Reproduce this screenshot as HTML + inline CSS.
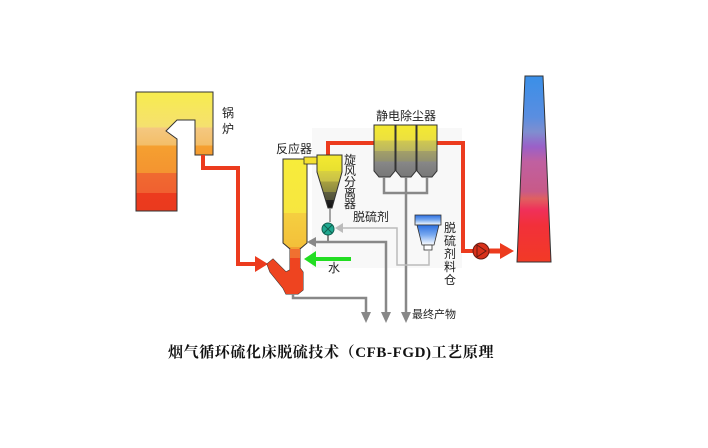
<!DOCTYPE html>
<html><head><meta charset="utf-8"><style>
html,body{margin:0;padding:0;background:#fff;}
svg{display:block;}
text{font-family:"Liberation Sans","Noto Sans CJK SC",sans-serif;font-size:12px;fill:#222;}
</style></head><body>
<svg width="708" height="448" viewBox="0 0 708 448" xmlns="http://www.w3.org/2000/svg">
<defs>
<linearGradient id="boil" x1="0" y1="0" x2="0" y2="1">
<stop offset="0" stop-color="#f7ec4e"/><stop offset="0.3" stop-color="#f5e070"/>
<stop offset="0.3" stop-color="#f5c880"/><stop offset="0.45" stop-color="#f3be68"/>
<stop offset="0.45" stop-color="#f5a030"/><stop offset="0.68" stop-color="#f49430"/>
<stop offset="0.68" stop-color="#f06a30"/><stop offset="0.85" stop-color="#f06030"/>
<stop offset="0.85" stop-color="#ec3b1e"/><stop offset="1" stop-color="#ea3a1e"/>
</linearGradient>
<linearGradient id="reac" x1="0" y1="0" x2="0" y2="1">
<stop offset="0" stop-color="#f7ec3a"/><stop offset="0.4" stop-color="#f7e640"/>
<stop offset="0.4" stop-color="#f5cf40"/><stop offset="0.65" stop-color="#f3c03a"/>
<stop offset="0.65" stop-color="#f3a030"/><stop offset="1" stop-color="#f29a2e"/>
</linearGradient>
<linearGradient id="cyc" x1="0" y1="0" x2="0" y2="1">
<stop offset="0" stop-color="#f4ea30"/><stop offset="0.3" stop-color="#e8e030"/>
<stop offset="0.3" stop-color="#d8d040"/><stop offset="0.5" stop-color="#c8c048"/>
<stop offset="0.5" stop-color="#a8a040"/><stop offset="0.7" stop-color="#8a8840"/>
<stop offset="0.7" stop-color="#606040"/><stop offset="0.85" stop-color="#505038"/>
<stop offset="0.85" stop-color="#222"/><stop offset="1" stop-color="#111"/>
</linearGradient>
<linearGradient id="esp" x1="0" y1="0" x2="0" y2="1">
<stop offset="0" stop-color="#f4ea30"/><stop offset="0.3" stop-color="#ece040"/>
<stop offset="0.3" stop-color="#d0c850"/><stop offset="0.5" stop-color="#bcb860"/>
<stop offset="0.5" stop-color="#a4a068"/><stop offset="0.7" stop-color="#909070"/>
<stop offset="0.7" stop-color="#888"/><stop offset="1" stop-color="#777"/>
</linearGradient>
<linearGradient id="stack" x1="0" y1="0" x2="0" y2="1">
<stop offset="0" stop-color="#3a8fe8"/><stop offset="0.22" stop-color="#5a8ee0"/>
<stop offset="0.3" stop-color="#7f8ed0"/><stop offset="0.38" stop-color="#9a60c8"/>
<stop offset="0.46" stop-color="#c060a0"/><stop offset="0.62" stop-color="#c85a88"/>
<stop offset="0.66" stop-color="#e06060"/><stop offset="0.72" stop-color="#f0305a"/>
<stop offset="0.8" stop-color="#f2303a"/><stop offset="1" stop-color="#f23a26"/>
</linearGradient>
<linearGradient id="silo" x1="0" y1="0" x2="0" y2="1">
<stop offset="0" stop-color="#2a6ee0"/><stop offset="0.5" stop-color="#7aaaf0"/><stop offset="1" stop-color="#ffffff"/>
</linearGradient>
</defs>

<!-- light background area -->
<rect x="312" y="128" width="150" height="140" fill="#f8f8f8"/>

<!-- boiler -->
<polygon points="136,92 213,92 213,155 195,155 195,120 177,120 166,131 177,139 177,211 136,211" fill="url(#boil)" stroke="#333" stroke-width="1"/>
<text x="222" y="117">锅</text><text x="222" y="133">炉</text>

<!-- red pipes -->
<polyline points="203,155 203,168 238,168 238,264 258,264" fill="none" stroke="#ec3b1e" stroke-width="4"/>
<polygon points="255,256 268,264 255,272" fill="#ec3b1e"/>
<polyline points="328,156 328,143 374,143" fill="none" stroke="#ec3b1e" stroke-width="4"/>
<polyline points="437,143 463,143 463,251 473,251" fill="none" stroke="#ec3b1e" stroke-width="4"/>
<line x1="489" y1="251" x2="503" y2="251" stroke="#ec3b1e" stroke-width="5"/>
<polygon points="500,243 514,251 500,259" fill="#ec3b1e"/>
<circle cx="481" cy="251" r="8" fill="#d8301a" stroke="#6a1a10" stroke-width="1"/>
<polygon points="477,245 486,251 477,257" fill="none" stroke="#6a1a10" stroke-width="1"/>

<!-- reactor -->
<path d="M283,159 L307,159 L307,243 L300,249 L300,268 L303,272 L303,290 L298,294 L286,294 L283,288 L270,272 L267,264 L273,259 L286,272 L290,270 L290,249 L283,243 Z" fill="url(#reac)" stroke="#333" stroke-width="1"/>
<path d="M290,258 L300,258 L300,268 L303,272 L303,290 L298,294 L286,294 L283,288 L270,272 L267,264 L273,259 L286,272 L290,270 Z" fill="#ee4420"/>
<path d="M290,249 L300,249 L300,258 L290,258 Z" fill="#f07030"/>
<text x="276" y="153">反应器</text>
<rect x="304" y="157" width="14" height="7" fill="#f4e030" stroke="#333" stroke-width="0.8"/>

<!-- cyclone -->
<path d="M317,155 L342,155 L342,172 L332,208 L328,208 L317,172 Z" fill="url(#cyc)" stroke="#333" stroke-width="1"/>
<g style="font-size:11px"><text x="344" y="164">旋</text><text x="344" y="175">风</text><text x="344" y="186">分</text><text x="344" y="197">离</text><text x="344" y="208">器</text></g>
<line x1="330" y1="208" x2="330" y2="222" stroke="#888" stroke-width="1.5"/>
<line x1="328" y1="235" x2="328" y2="242" stroke="#888" stroke-width="2"/>
<circle cx="328" cy="229" r="6" fill="#20a890" stroke="#106050" stroke-width="1"/>
<path d="M324,225 L332,233 M332,225 L324,233" stroke="#106050" stroke-width="1"/>

<!-- ESP -->
<g stroke="#333" stroke-width="1">
<path d="M374,125 L395,125 L395,171 L390,177 L379,177 L374,171 Z" fill="url(#esp)"/>
<path d="M396,125 L416,125 L416,171 L411,177 L401,177 L396,171 Z" fill="url(#esp)"/>
<path d="M417,125 L437,125 L437,171 L432,177 L422,177 L417,171 Z" fill="url(#esp)"/>
</g>
<text x="376" y="120">静电除尘器</text>

<!-- gray lines -->
<g stroke="#888" stroke-width="2.5" fill="none">
<polyline points="384,177 384,193 427,193 427,177"/>
<line x1="406" y1="177" x2="406" y2="314"/>
<polyline points="309,242 386,242 386,314"/>
<polyline points="293,294 293,298 366,298 366,314"/>
</g>
<g fill="#888">
<polygon points="307,242 316,237 316,247"/>
<polygon points="361,312 371,312 366,323"/>
<polygon points="381,312 391,312 386,323"/>
<polygon points="401,312 411,312 406,323"/>
</g>
<text x="412" y="318" style="font-size:11px">最终产物</text>

<!-- light gray sorbent line -->
<polyline points="340,228 397,228 397,265 429,265 429,251" fill="none" stroke="#bbb" stroke-width="1.5"/>
<polygon points="335,228 343,223 343,233" fill="#bbb"/>
<text x="353" y="221">脱硫剂</text>

<!-- silo -->
<rect x="415" y="215" width="26" height="10" fill="url(#silo)" stroke="#333" stroke-width="0.8"/>
<polygon points="417,225 439,225 434,245 422,245" fill="url(#silo)" stroke="#333" stroke-width="0.8"/>
<rect x="424" y="245" width="8" height="5" fill="#fff" stroke="#333" stroke-width="0.8"/>
<g style="font-size:11px"><text x="444" y="232">脱</text><text x="444" y="245">硫</text><text x="444" y="258">剂</text><text x="444" y="271">料</text><text x="444" y="284">仓</text></g>

<!-- water -->
<line x1="314" y1="259" x2="351" y2="259" stroke="#22dd22" stroke-width="4"/>
<polygon points="304,259 316,251 316,267" fill="#22dd22"/>
<text x="328" y="272">水</text>

<!-- stack -->
<polygon points="525,76 543,76 551,262 517,262" fill="url(#stack)" stroke="#333" stroke-width="1"/>

<!-- title -->
<text x="168" y="357" style="font-family:'Liberation Serif','Noto Serif CJK SC',serif;font-size:15px;font-weight:bold;fill:#111;letter-spacing:0.6px">烟气循环硫化床脱硫技术（CFB-FGD)工艺原理</text>
</svg>
</body></html>
